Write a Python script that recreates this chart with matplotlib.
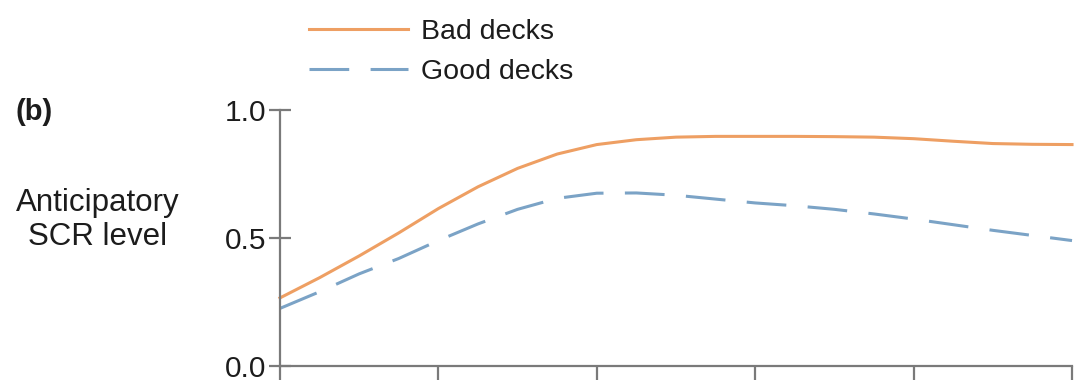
import numpy as np
import matplotlib.pyplot as plt

plt.rcParams['font.family'] = ['Liberation Sans', 'DejaVu Sans']

# Trial blocks (x) and anticipatory skin conductance response for each deck type
blocks = np.arange(0, 5.01, 0.25)
bad_decks = [0.266, 0.345, 0.43, 0.52, 0.615, 0.70, 0.772, 0.828, 0.865, 0.884, 0.894,
             0.897, 0.897, 0.897, 0.896, 0.894, 0.888, 0.878, 0.869, 0.866, 0.865]
good_decks = [0.225, 0.29, 0.36, 0.42, 0.49, 0.555, 0.612, 0.655, 0.675, 0.676, 0.667,
              0.652, 0.637, 0.626, 0.612, 0.594, 0.574, 0.552, 0.53, 0.51, 0.49]
y_ticks = [0.0, 0.5, 1.0]

orange = '#EE9F63'
blue = '#7BA3C6'
axis_grey = '#7a7a7a'
text_col = '#1c1c1c'

fig = plt.figure(figsize=(10.76, 3.86), dpi=100)
ax = fig.add_axes([0.2602, 0.0518, 0.7361, 0.6632])

ax.plot(blocks, bad_decks, color=orange, lw=2.2, clip_on=False, label='Bad decks')
ax.plot(blocks, good_decks, color=blue, lw=2.2, dashes=(13, 7), clip_on=False,
        label='Good decks')

ax.set_xlim(0, 5)
ax.set_ylim(0, 1.0)
ax.set_xticks(np.arange(0, 6))
ax.set_xticklabels([])
ax.set_yticks(y_ticks)
ax.set_yticklabels([f'{v:.1f}' for v in y_ticks])

for side in ['top', 'right']:
    ax.spines[side].set_visible(False)
for side in ['left', 'bottom']:
    ax.spines[side].set_color(axis_grey)
    ax.spines[side].set_linewidth(1.6)

ax.tick_params(axis='y', direction='inout', length=16, width=1.6, color=axis_grey,
               labelsize=21.5, pad=2, labelcolor=text_col)
ax.tick_params(axis='x', direction='out', length=10, width=1.6, color=axis_grey)

fig.text(0.014, 0.71, '(b)', fontsize=21, fontweight='bold', color=text_col,
         va='center', ha='left')
fig.text(0.091, 0.43, 'Anticipatory\nSCR level', fontsize=22.5, color=text_col,
         va='center', ha='center', linespacing=1.2)

ax.legend(loc='upper left', bbox_to_anchor=(0.263, 1.017), bbox_transform=fig.transFigure,
          frameon=False, fontsize=20.5, handlelength=3.5, handletextpad=0.45,
          labelspacing=0.5, labelcolor=text_col)

fig.savefig('out.png', dpi=100)
